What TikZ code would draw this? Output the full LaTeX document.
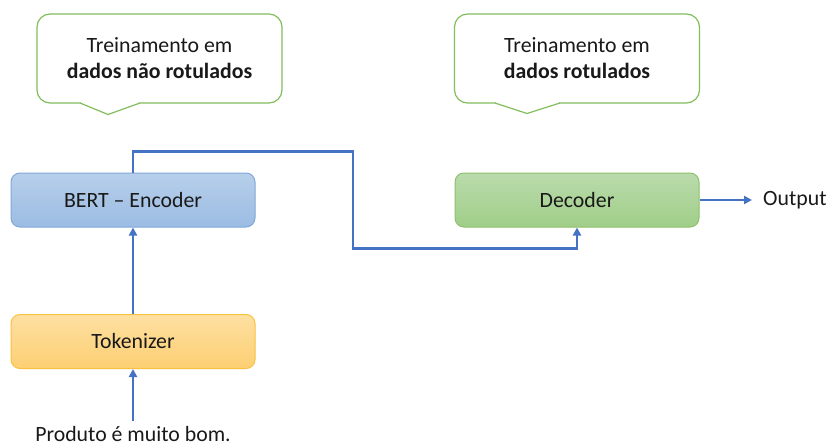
\documentclass[tikz,border=0pt]{standalone}
\usepackage{fontspec}
\setmainfont{Carlito}
\usetikzlibrary{arrows.meta}
\definecolor{conn}{HTML}{4472C4}
\definecolor{callg}{HTML}{82BD5C}
\definecolor{bluetop}{HTML}{B7CFEA}
\definecolor{bluebot}{HTML}{9BBCE3}
\definecolor{blueline}{HTML}{80A8D8}
\definecolor{greentop}{HTML}{BADBAC}
\definecolor{greenbot}{HTML}{A0CE88}
\definecolor{greenline}{HTML}{8DC06C}
\definecolor{oratop}{HTML}{FEE0A2}
\definecolor{orabot}{HTML}{FCCF72}
\definecolor{oraline}{HTML}{F8C23E}
\tikzset{
  txt/.style={font=\fontsize{21.8}{26}\selectfont, text=black!90},
  box/.style={txt, rounded corners=9pt, minimum width=244pt, minimum height=54pt, line width=1pt},
  callout/.style={txt, draw=callg, fill=white, rounded corners=13pt, minimum width=245pt, minimum height=89pt, line width=1.2pt, align=center},
  conn/.style={draw=conn, line width=2.7pt, -{Triangle[length=8pt,width=8pt]}}
}
\begin{document}
\begin{tikzpicture}[x=1pt,y=-1pt]
\useasboundingbox (0,0) rectangle (826,447);
% callouts
\node[callout] (c1) at (159.5,58.5) {Treinamento em\\\textbf{dados não rotulados}};
\fill[white] (81,101) rectangle (139,105);
\draw[callg, line width=1.2pt, line join=round] (80,103) -- (108,114.5) -- (140,103);
\node[callout] (c2) at (577,58.5) {Treinamento em\\\textbf{dados rotulados}};
\fill[white] (496,101) rectangle (559,105);
\draw[callg, line width=1.2pt, line join=round] (495,103) -- (527,113.5) -- (560,103);
% boxes
\node[box, draw=blueline, top color=bluetop, bottom color=bluebot] (enc) at (133,200) {BERT – Encoder};
\node[box, draw=greenline, top color=greentop, bottom color=greenbot] (dec) at (577,200) {Decoder};
\node[box, draw=oraline, top color=oratop, bottom color=orabot] (tok) at (133,341.5) {Tokenizer};
% texts
\node[txt, anchor=west, inner sep=0pt] (out) at (763,200) {Output};
\node[txt, anchor=base, inner sep=0pt] (inp) at (133,441) {Produto é muito bom.};
% connectors
\coordinate (inb) at (133,421);
\coordinate (outa) at (752,200);
\draw[conn] (inb) -- (tok.south);
\draw[conn] (tok.north) -- (enc.south);
\draw[conn] (enc.north) |- (353,151.5) |- (577,248.5) -- (dec.south);
\draw[conn] (dec.east) -- (outa);
\end{tikzpicture}
\end{document}
